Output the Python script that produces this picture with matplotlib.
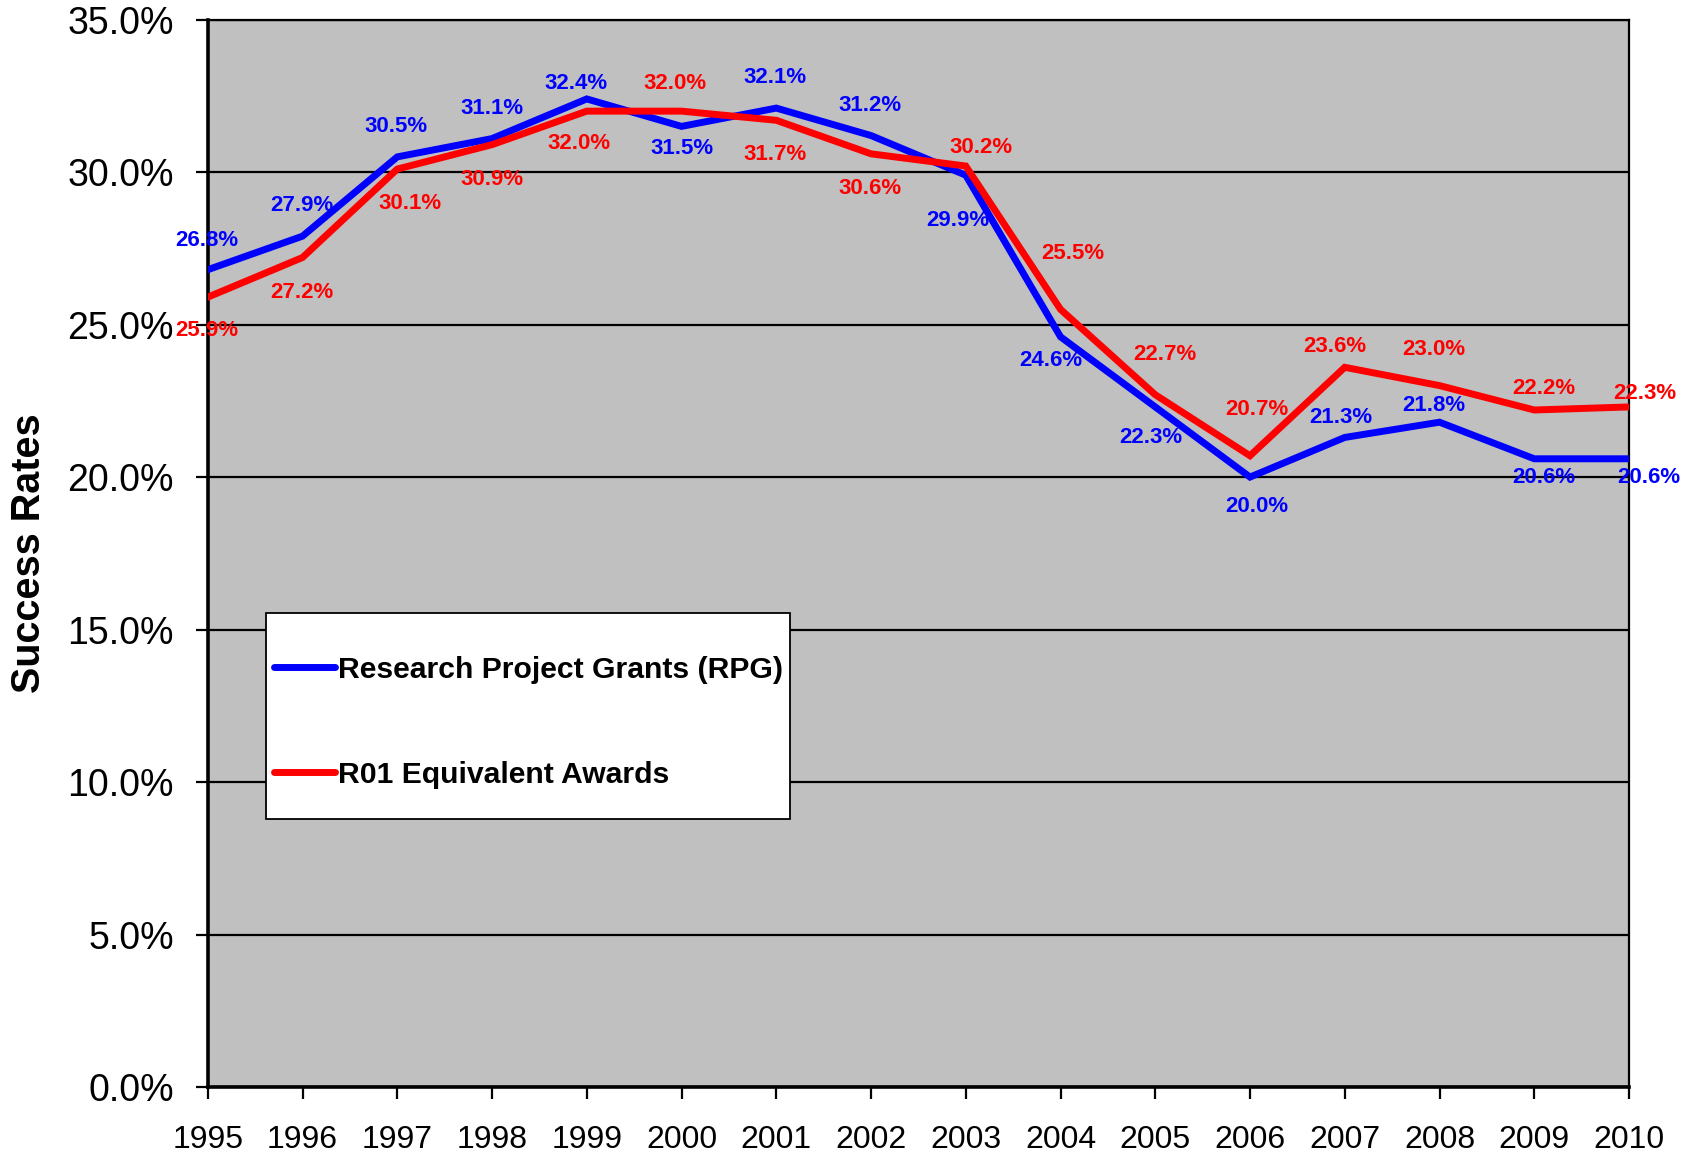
import matplotlib
matplotlib.use("Agg")
import matplotlib.pyplot as plt
from matplotlib.ticker import FuncFormatter
from matplotlib.patches import Rectangle

plt.rcParams['font.family'] = ['Liberation Sans', 'DejaVu Sans']

years = list(range(1995, 2011))
rpg = [26.8, 27.9, 30.5, 31.1, 32.4, 31.5, 32.1, 31.2, 29.9, 24.6, 22.3, 20.0, 21.3, 21.8, 20.6, 20.6]
r01 = [25.9, 27.2, 30.1, 30.9, 32.0, 32.0, 31.7, 30.6, 30.2, 25.5, 22.7, 20.7, 23.6, 23.0, 22.2, 22.3]
series_names = ["Research Project Grants (RPG)", "R01 Equivalent Awards"]
y_ticks = [0, 5, 10, 15, 20, 25, 30, 35]

# label offsets (pixels in shown image, +dy = downwards)
rpg_off = [(-1, -27), (-1, -28), (-1, -28), (0, -28), (-10, -14), (0, 20), (-1, -28), (-1, -28),
           (-7, 42), (-9, 22), (-4, 28), (6, 27), (-4, -18), (-5, -15), (9, 17), (18, 17)]
r01_off = [(-1, 31), (-1, 32), (12, 32), (0, 32), (-7, 30), (-6, -26), (-1, 32), (-1, 32),
           (14, -17), (11, -52), (9, -37), (6, -43), (-9, -19), (-5, -33), (9, -20), (15, -12)]

S = 1696 / 1568

fig = plt.figure(figsize=(16.96, 11.56), dpi=100)
ax = fig.add_axes([0.1225, 0.0597, 0.838, 0.9233])
ax.set_facecolor('#C0C0C0')

l1, = ax.plot(years, rpg, color='#0000FF', lw=5.0, solid_joinstyle='miter', zorder=3)
l2, = ax.plot(years, r01, color='#FF0000', lw=5.0, solid_joinstyle='miter', zorder=4)

for vals, offs, col in ((rpg, rpg_off, '#0000FF'), (r01, r01_off, '#FF0000')):
    for x, v, (dx, dy) in zip(years, vals, offs):
        ax.annotate(f"{v:.1f}%", (x, v), xytext=(dx * S, -dy * S), textcoords='offset pixels',
                    ha='center', va='center', color=col, fontsize=16, fontweight='bold',
                    zorder=6, annotation_clip=False)

ax.set_xlim(1995, 2010)
ax.set_ylim(0, 35)
ax.set_xticks(years)
ax.set_yticks(y_ticks)
ax.yaxis.set_major_formatter(FuncFormatter(lambda v, p: f"{v:.1f}%"))
ax.grid(axis='y', color='black', lw=1.6, zorder=1)
ax.set_axisbelow(True)
for s in ax.spines.values():
    s.set_color('black')
    s.set_linewidth(1.6)
ax.spines['bottom'].set_linewidth(2.6)
ax.spines['left'].set_linewidth(2.6)
ax.tick_params(axis='both', direction='out', length=8.6, width=1.6, colors='black')
ax.tick_params(axis='x', pad=19, labelsize=23)
ax.tick_params(axis='y', pad=15.8, labelsize=27)
ax.set_ylabel("Success Rates", fontsize=28.5, fontweight='bold')
ax.yaxis.set_label_coords(-0.1257, 0.5)
ax.yaxis.label.set_verticalalignment('center')

# legend box
ax.add_patch(Rectangle((0.0411, 0.2511), 0.3687, 0.1933, transform=ax.transAxes,
                       facecolor='white', edgecolor='black', lw=1.3, zorder=7))
leg = ax.legend([l1, l2], series_names, loc='center left', bbox_to_anchor=(0.0466, 0.3418),
                frameon=False, prop={'size': 21.7, 'weight': 'bold'}, handlelength=2.03,
                handletextpad=0.1, labelspacing=2.56, borderpad=0, borderaxespad=0)
leg.set_zorder(8)
for h in leg.get_lines():
    h.set_solid_capstyle('round')
    h.set_linewidth(5.0)

fig.savefig("out.png", dpi=100)
